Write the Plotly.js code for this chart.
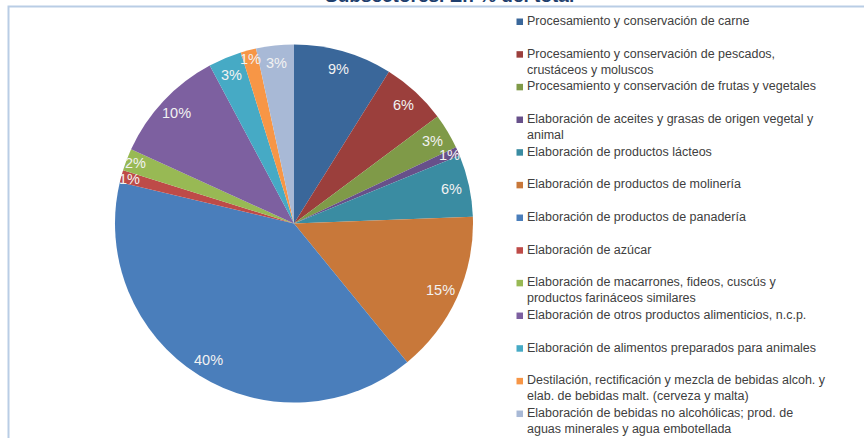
<!DOCTYPE html>
<html>
<head>
<meta charset="utf-8">
<script src="https://cdn.plot.ly/plotly-3.0.1.min.js"></script>
<style>html,body{margin:0;padding:0;background:#fff;overflow:hidden}</style>
</head>
<body>
<div id="chart" style="width:864px;height:438px"></div>
<script>
const categories = [
  "Procesamiento y conservación de carne",
  "Procesamiento y conservación de pescados,<br>crustáceos y moluscos",
  "Procesamiento y conservación de frutas y vegetales",
  "Elaboración de aceites y grasas de origen vegetal y<br>animal",
  "Elaboración de productos lácteos",
  "Elaboración de productos de molinería",
  "Elaboración de productos de panadería",
  "Elaboración de azúcar",
  "Elaboración de macarrones, fideos, cuscús y<br>productos farináceos similares",
  "Elaboración de otros productos alimenticios, n.c.p.",
  "Elaboración de alimentos preparados para animales",
  "Destilación, rectificación y mezcla de bebidas alcoh. y<br>elab. de bebidas malt. (cerveza y malta)",
  "Elaboración de bebidas no alcohólicas; prod. de<br>aguas minerales y agua embotellada"
];
const shares = [8.9, 5.9, 3.2, 0.8, 5.6, 14.7, 39.6, 1.1, 2.0, 10.4, 3.0, 1.4, 3.4];
const colors = ['#3a679a', '#9b3f3c', '#7f9a48', '#67508a', '#3a8ca2', '#c8783a', '#4a7ebb',
                '#be4b48', '#98b954', '#7d60a0', '#46aac5', '#f79646', '#a8b9d6'];
const titleText = "Subsectores. En % del total";

const W = 864, H = 438;
const cx = 294, cy = 223.5, r = 179;
const px = x => x / W, py = y => 1 - y / H;
const total = shares.reduce((a, b) => a + b, 0);
const annotations = [], shapes = [];

// frame
shapes.push({type:'rect', xref:'paper', yref:'paper', x0:px(8.5), x1:px(900), y0:py(470), y1:py(6.5),
  line:{color:'#b9cde5', width:2}, fillcolor:'rgba(0,0,0,0)', layer:'below'});

// percentage labels
let cum = 0;
shares.forEach((v, i) => {
  const mid = (cum + v / 2) / total * 2 * Math.PI;
  cum += v;
  const f = v / total < 0.025 ? 0.95 : 0.9;
  annotations.push({xref:'paper', yref:'paper', showarrow:false,
    x: px(cx + f * r * Math.sin(mid)), y: py(cy - f * r * Math.cos(mid)),
    xanchor:'center', yanchor:'middle',
    text: Math.round(v / total * 100) + '%',
    font:{family:'Liberation Sans, Arial, sans-serif', size:14.5, color:'#f2f2f2'}});
});

// legend
categories.forEach((c, i) => {
  const y1 = 21 + i * 32.67;
  shapes.push({type:'rect', xref:'paper', yref:'paper', x0:px(516.5), x1:px(523), y0:py(y1 + 4), y1:py(y1 - 2.5),
    fillcolor: colors[i], line:{width:0}});
  annotations.push({xref:'paper', yref:'paper', showarrow:false,
    x: px(524.5), y: py(y1 - 9.1), xanchor:'left', yanchor:'top', align:'left',
    text: c, font:{family:'Liberation Sans, Arial, sans-serif', size:12.5, color:'#404040'}});
});

// title (clipped at top as in the reference)
annotations.push({xref:'paper', yref:'paper', showarrow:false, x:px(449.5), y:py(8),
  xanchor:'center', yanchor:'bottom', text:'<b>' + titleText + '</b>',
  font:{family:'Liberation Sans, Arial, sans-serif', size:19, color:'#1f3f6e'}});

const trace = {
  type:'pie',
  values: shares,
  labels: categories.map(c => c.replace('<br>', ' ')),
  marker:{colors: colors, line:{width:0}},
  sort:false, direction:'clockwise', rotation:0,
  textinfo:'none', hoverinfo:'label+percent',
  showlegend:false,
  domain:{x:[px(cx - r), px(cx + r)], y:[1 - (cy + r) / H, 1 - (cy - r) / H]}
};

Plotly.newPlot('chart', [trace], {
  width: W, height: H,
  margin:{l:0, r:0, t:0, b:0, pad:0},
  showlegend:false,
  paper_bgcolor:'#ffffff',
  annotations: annotations,
  shapes: shapes
}, {displayModeBar:false, staticPlot:true});
</script>
</body>
</html>
